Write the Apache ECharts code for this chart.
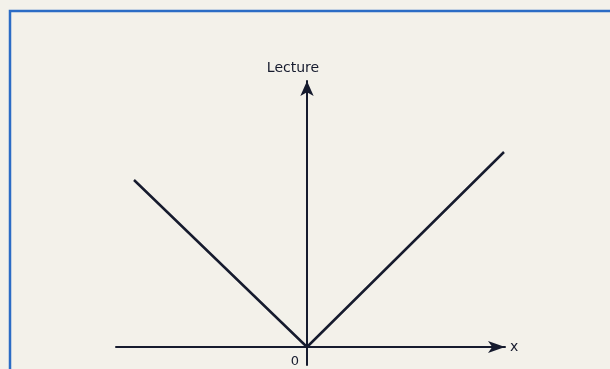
<!DOCTYPE html>
<html>
<head>
<meta charset="utf-8">
<script src="https://cdn.jsdelivr.net/npm/echarts@6/dist/echarts.min.js"></script>
<style>
  html, body { margin: 0; padding: 0; background: #f3f1ea; }
  #main { width: 610px; height: 369px; }
</style>
</head>
<body>
<div id="main"></div>
<script>
// y = |x| sketch (1 unit ~ 100px)
const xRange = [-1.91, 1.98];
const yRange = [-0.18, 2.66];
const vPoints = [[-1.73, 1.67], [0, 0], [1.97, 1.95]];
const xTickLabels = [0];
const xName = 'x';
const yName = 'Lecture';

const ink = '#161b2e';

let chart = echarts.init(document.getElementById('main'), null, { renderer: 'canvas' });

chart.setOption({
  backgroundColor: '#f3f1ea',
  animation: false,
  grid: { left: 116, right: 105, top: 81, bottom: 4, outerBoundsMode: 'none' },
  xAxis: {
    type: 'value',
    min: xRange[0],
    max: xRange[1],
    name: xName,
    nameGap: 5,
    nameTextStyle: { color: ink, fontSize: 14, fontFamily: 'DejaVu Sans' },
    axisLine: {
      onZero: true,
      symbol: ['none', 'arrow'],
      symbolSize: [9, 17],
      lineStyle: { color: ink, width: 2 }
    },
    axisTick: { show: false },
    splitLine: { show: false },
    axisLabel: {
      // labels stay at the grid bottom, so pull the "0" back up under the origin
      customValues: xTickLabels,
      color: ink,
      fontSize: 13,
      fontFamily: 'DejaVu Sans',
      margin: -10,
      align: 'right',
      padding: [0, 8, 0, 0]
    }
  },
  yAxis: {
    type: 'value',
    min: yRange[0],
    max: yRange[1],
    name: yName,
    nameGap: 6,
    nameTextStyle: {
      color: ink, fontSize: 14, fontFamily: 'DejaVu Sans',
      align: 'center', padding: [0, 28, 0, 0]
    },
    axisLine: {
      onZero: true,
      symbol: ['none', 'arrow'],
      symbolSize: [10, 15],
      lineStyle: { color: ink, width: 2 }
    },
    axisTick: { show: false },
    splitLine: { show: false },
    axisLabel: { show: false }
  },
  graphic: [{
    type: 'rect',
    shape: { x: 10, y: 11, width: 640, height: 400 },
    style: { fill: 'none', stroke: '#2b6cc5', lineWidth: 2.5 },
    silent: true
  }],
  series: [{
    type: 'line',
    data: vPoints,
    symbol: 'none',
    lineStyle: { color: ink, width: 2.5 }
  }]
});
</script>
</body>
</html>
